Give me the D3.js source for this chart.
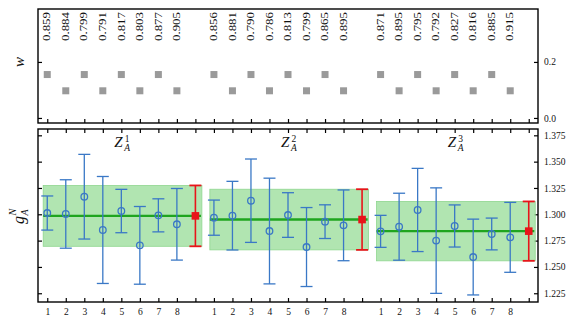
<!DOCTYPE html>
<html>
<head>
<meta charset="utf-8">
<script src="https://cdn.jsdelivr.net/npm/d3@7"></script>
<style>
  body { margin: 0; background: #fff; }
  svg { display: block; font-family: "Liberation Serif", "DejaVu Serif", serif; }
</style>
</head>
<body>
<svg id="chart" width="581" height="327"></svg>
<script>
// per-group labels (Z_A^n superscripts)
var groupNums = ["1", "2", "3"];
var pointNums = [1, 2, 3, 4, 5, 6, 7, 8];

// rotated numbers on top panel
var wLabels = [
    ["0.859", "0.884", "0.799", "0.791", "0.817", "0.803", "0.877", "0.905"],
    ["0.856", "0.881", "0.790", "0.786", "0.813", "0.799", "0.865", "0.895"],
    ["0.871", "0.895", "0.795", "0.792", "0.827", "0.816", "0.885", "0.915"]
];

// weights w (grey squares)
var wValues = [
    [0.155, 0.097, 0.155, 0.097, 0.155, 0.097, 0.155, 0.097],
    [0.155, 0.097, 0.155, 0.097, 0.155, 0.097, 0.155, 0.097],
    [0.155, 0.097, 0.155, 0.097, 0.155, 0.097, 0.155, 0.097]
];

// g_A^N values and errors
var gaValues = [
    [1.3012, 1.3003, 1.3167, 1.2851, 1.3031, 1.2705, 1.2990, 1.2905],
    [1.2968, 1.2987, 1.3129, 1.2841, 1.2993, 1.2689, 1.2930, 1.2895],
    [1.2838, 1.2882, 1.3041, 1.2750, 1.2889, 1.2594, 1.2813, 1.2781]
];
var gaErrors = [
    [0.0162, 0.0325, 0.0402, 0.0508, 0.0206, 0.0369, 0.0157, 0.0340],
    [0.0167, 0.0326, 0.0396, 0.0502, 0.0212, 0.0375, 0.0160, 0.0336],
    [0.0152, 0.0318, 0.0395, 0.0501, 0.0200, 0.0360, 0.0151, 0.0332]
];

// combined result per group (red) and band
var combValues = [1.2985, 1.2950, 1.2840];
var combErrors = [0.0289, 0.0288, 0.0282];

var topTicks = [0.0, 0.2];
var botTicks = [1.225, 1.250, 1.275, 1.300, 1.325, 1.350, 1.375];

var svg = d3.select("#chart"),
    left = 38, right = 538,
    topY0 = 9, topY1 = 123,
    botY0 = 129, botY1 = 302
;

var blue = "#3a78c6", red = "#e8141a", green = "#1fa51f", band = "#a9e2a9", ink = "#111";

// position index: group g, point k (1..9, 9 = combined)
function idx(g, k) { return g * 9 + k; }

var x = d3.scaleLinear().domain([0.5, 27.5]).range([left, right]);
var yTop = d3.scaleLinear().domain([-0.018, 0.389]).range([topY1, topY0]);
var yBot = d3.scaleLinear().domain([1.2167, 1.381]).range([botY1, botY0]);

var allIdx = d3.range(1, 28);

function styleAxis(sel) {
    sel.select(".domain").remove();
    sel.selectAll(".tick line").attr("stroke", "#000").attr("stroke-width", 1.2);
    sel.selectAll(".tick text").attr("fill", ink).style("font-family", "'Liberation Serif', serif").style("font-size", "9.5px");
}

// ---- top panel ----
var topG = svg.append("g");

topG.append("g")
    .attr("transform", "translate(0," + topY1 + ")")
    .call(d3.axisBottom(x).tickValues(allIdx).tickSize(-4).tickFormat(""))
    .call(styleAxis);
topG.append("g")
    .attr("transform", "translate(" + left + ",0)")
    .call(d3.axisLeft(yTop).tickValues(topTicks).tickSize(-4).tickFormat(""))
    .call(styleAxis);
topG.append("g")
    .attr("transform", "translate(" + right + ",0)")
    .call(d3.axisRight(yTop).tickValues(topTicks).tickSize(-4).tickPadding(6).tickFormat(d3.format(".1f")))
    .call(styleAxis);

groupNums.forEach(function(gn, g) {
    topG.selectAll(".sq" + g)
        .data(wValues[g])
        .enter().append("rect")
        .attr("x", (d, i) => x(idx(g, i + 1)) - 3.5)
        .attr("y", d => yTop(d) - 3.5)
        .attr("width", 7)
        .attr("height", 7)
        .attr("fill", "#9a9a9a");

    topG.selectAll(".wl" + g)
        .data(wLabels[g])
        .enter().append("text")
        .attr("transform", (d, i) => "translate(" + (x(idx(g, i + 1)) + 3.2) + ",12) rotate(-90)")
        .attr("text-anchor", "end")
        .attr("textLength", 29)
        .attr("lengthAdjust", "spacingAndGlyphs")
        .style("font-size", "10px")
        .attr("fill", ink)
        .text(d => d);
});

topG.append("rect")
    .attr("x", left).attr("y", topY0)
    .attr("width", right - left).attr("height", topY1 - topY0)
    .attr("fill", "none").attr("stroke", "#000").attr("stroke-width", 1.4);

topG.append("text")
    .attr("transform", "translate(24,62) rotate(-90)")
    .attr("text-anchor", "middle")
    .style("font-size", "15px").style("font-style", "italic")
    .attr("fill", ink)
    .text("w");

// ---- bottom panel ----
var botG = svg.append("g");

botG.append("g")
    .attr("transform", "translate(0," + botY1 + ")")
    .call(d3.axisBottom(x).tickValues(allIdx).tickSize(-4).tickPadding(6)
        .tickFormat(d => (d % 9 === 0) ? "" : String(d - Math.floor(d / 9) * 9)))
    .call(styleAxis);
botG.append("g")
    .attr("transform", "translate(0," + botY0 + ")")
    .call(d3.axisTop(x).tickValues(allIdx).tickSize(-4).tickFormat(""))
    .call(styleAxis);
botG.append("g")
    .attr("transform", "translate(" + left + ",0)")
    .call(d3.axisLeft(yBot).tickValues(botTicks).tickSize(-4).tickFormat(""))
    .call(styleAxis);
botG.append("g")
    .attr("transform", "translate(" + right + ",0)")
    .call(d3.axisRight(yBot).tickValues(botTicks).tickSize(-4).tickPadding(6).tickFormat(d3.format(".3f")))
    .call(styleAxis);

groupNums.forEach(function(gn, g) {
    var c = combValues[g], e = combErrors[g];

    // band
    botG.append("rect")
        .attr("x", x(idx(g, 0.78)))
        .attr("y", yBot(c + e))
        .attr("width", x(idx(g, 9.35)) - x(idx(g, 0.78)))
        .attr("height", yBot(c - e) - yBot(c + e))
        .attr("fill", band).attr("fill-opacity", 0.9)
        .attr("stroke", "#8fd68f").attr("stroke-width", 0.8);

    botG.append("line")
        .attr("x1", x(idx(g, 0.78))).attr("x2", x(idx(g, 9.3)))
        .attr("y1", yBot(c)).attr("y2", yBot(c))
        .attr("stroke", green).attr("stroke-width", 2.4);

    // blue error bars
    var pts = gaValues[g].map((v, i) => ({ k: idx(g, i + 1), v: v, e: gaErrors[g][i] }));
    var eb = botG.selectAll(".eb" + g).data(pts).enter().append("g");
    eb.append("line")
        .attr("x1", d => x(d.k)).attr("x2", d => x(d.k))
        .attr("y1", d => yBot(d.v + d.e)).attr("y2", d => yBot(d.v - d.e))
        .attr("stroke", blue).attr("stroke-width", 1.3);
    eb.append("line")
        .attr("x1", d => x(d.k) - 6).attr("x2", d => x(d.k) + 6)
        .attr("y1", d => yBot(d.v + d.e)).attr("y2", d => yBot(d.v + d.e))
        .attr("stroke", blue).attr("stroke-width", 1.3);
    eb.append("line")
        .attr("x1", d => x(d.k) - 6).attr("x2", d => x(d.k) + 6)
        .attr("y1", d => yBot(d.v - d.e)).attr("y2", d => yBot(d.v - d.e))
        .attr("stroke", blue).attr("stroke-width", 1.3);
    eb.append("circle")
        .attr("cx", d => x(d.k)).attr("cy", d => yBot(d.v))
        .attr("r", 3.3)
        .attr("fill", "none").attr("stroke", blue).attr("stroke-width", 1.3);

    // red combined point
    var rk = idx(g, 9);
    botG.append("line")
        .attr("x1", x(rk)).attr("x2", x(rk))
        .attr("y1", yBot(c + e)).attr("y2", yBot(c - e))
        .attr("stroke", red).attr("stroke-width", 1.6);
    [c + e, c - e].forEach(function(v) {
        botG.append("line")
            .attr("x1", x(rk) - 6).attr("x2", x(rk) + 6)
            .attr("y1", yBot(v)).attr("y2", yBot(v))
            .attr("stroke", red).attr("stroke-width", 1.8);
    });
    botG.append("rect")
        .attr("x", x(rk) - 3.8).attr("y", yBot(c) - 3.8)
        .attr("width", 7.6).attr("height", 7.6)
        .attr("fill", red);

    // group title Z_A^n
    var tx = x(idx(g, 5));
    var t = botG.append("g").attr("transform", "translate(" + (tx - 7) + ",147)").attr("fill", ink);
    t.append("text").style("font-size", "15px").style("font-style", "italic").text("Z");
    t.append("text").attr("x", 10.5).attr("y", -5.5).style("font-size", "9.5px").text(gn);
    t.append("text").attr("x", 10).attr("y", 4).style("font-size", "9.5px").style("font-style", "italic").text("A");
});

botG.append("rect")
    .attr("x", left).attr("y", botY0)
    .attr("width", right - left).attr("height", botY1 - botY0)
    .attr("fill", "none").attr("stroke", "#000").attr("stroke-width", 1.4);

// y label g_A^N
var yl = svg.append("g").attr("transform", "translate(24,224) rotate(-90)").attr("fill", ink);
yl.append("text").style("font-size", "16px").style("font-style", "italic").text("g");
yl.append("text").attr("x", 8.5).attr("y", -8).style("font-size", "10px").style("font-style", "italic").text("N");
yl.append("text").attr("x", 8.5).attr("y", 4).style("font-size", "10px").style("font-style", "italic").text("A");
</script>
</body>
</html>
